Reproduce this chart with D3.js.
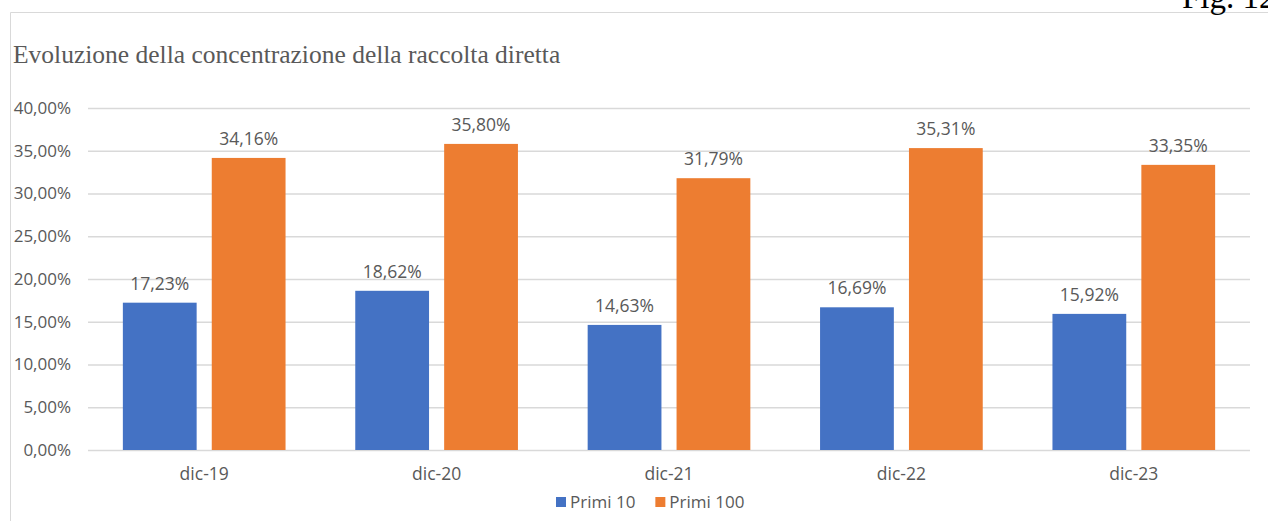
<!DOCTYPE html>
<html>
<head>
<meta charset="utf-8">
<script src="https://cdn.jsdelivr.net/npm/d3@7"></script>
<style>
  html, body { margin: 0; padding: 0; background: #fff; }
  svg { display: block; }
</style>
</head>
<body>
<div id="chart"></div>
<script>
// data
const categories = ["dic-19", "dic-20", "dic-21", "dic-22", "dic-23"];
const seriesNames = ["Primi 10", "Primi 100"];
const primi10 = [17.23, 18.62, 14.63, 16.69, 15.92];
const primi100 = [34.16, 35.80, 31.79, 35.31, 33.35];
const yTicks = [0, 5, 10, 15, 20, 25, 30, 35, 40];

const W = 1268, H = 521;
const colors = { "Primi 10": "#4472C4", "Primi 100": "#ED7D31" };
const textCol = "#595959";
const fmt = v => v.toFixed(2).replace(".", ",") + "%";

const svg = d3.select("#chart").append("svg")
    .attr("width", W)
    .attr("height", H);

// frame of the chart area (top and left edges visible)
svg.append("line")
    .attr("x1", 10.5).attr("x2", W)
    .attr("y1", 12.5).attr("y2", 12.5)
    .attr("stroke", "#d9d9d9");
svg.append("line")
    .attr("x1", 10.5).attr("x2", 10.5)
    .attr("y1", 12.5).attr("y2", H)
    .attr("stroke", "#d9d9d9");

// figure number, cut at the top like in the page it comes from
svg.append("text")
    .attr("x", 1182)
    .attr("y", 8)
    .style("font-family", "'Liberation Serif', serif")
    .style("font-size", "33px")
    .style("fill", "#000")
    .text("Fig. 12");

// title
svg.append("text")
    .attr("x", 13)
    .attr("y", 63)
    .style("font-family", "'Liberation Serif', serif")
    .style("font-size", "25.5px")
    .style("fill", textCol)
    .text("Evoluzione della concentrazione della raccolta diretta");

// scales
const plot = { left: 88, right: 1250, top: 108, bottom: 450 };

const x0 = d3.scaleBand()
    .domain(categories)
    .range([plot.left, plot.right])
    .paddingInner(0.3)
    .paddingOuter(0.15);

const x1 = d3.scaleBand()
    .domain(seriesNames)
    .range([0, x0.bandwidth()])
    .paddingInner(0.17);

const y = d3.scaleLinear()
    .domain([0, 40])
    .range([plot.bottom, plot.top]);

// gridlines + y labels
const yAxis = svg.append("g")
    .attr("transform", `translate(${plot.left},0)`)
    .call(d3.axisLeft(y)
        .tickValues(yTicks)
        .tickSize(-(plot.right - plot.left))
        .tickPadding(17)
        .tickFormat(d => fmt(d)));
yAxis.select(".domain").remove();
yAxis.selectAll(".tick line")
    .attr("stroke", "#d9d9d9")
    .attr("stroke-width", 1.3);
yAxis.selectAll(".tick text")
    .attr("fill", textCol)
    .style("font-family", "'Open Sans', sans-serif")
    .style("font-size", "17px");

// x axis labels
const xAxis = svg.append("g")
    .attr("transform", `translate(0,${plot.bottom})`)
    .call(d3.axisBottom(x0).tickSize(0).tickPadding(18));
xAxis.select(".domain").remove();
xAxis.selectAll(".tick text")
    .attr("fill", textCol)
    .style("font-family", "'Open Sans', sans-serif")
    .style("font-size", "17.5px");

// bars
const rows = categories.map((c, i) => ({
    cat: c,
    values: [
        { name: "Primi 10", value: primi10[i] },
        { name: "Primi 100", value: primi100[i] }
    ]
}));

const groups = svg.selectAll(".grp")
    .data(rows)
    .enter()
    .append("g")
    .attr("transform", d => `translate(${x0(d.cat)},0)`);

groups.selectAll("rect")
    .data(d => d.values)
    .enter()
    .append("rect")
    .attr("x", d => x1(d.name))
    .attr("y", d => y(d.value))
    .attr("width", x1.bandwidth())
    .attr("height", d => y(0) - y(d.value))
    .attr("fill", d => colors[d.name]);

groups.selectAll(".lbl")
    .data(d => d.values)
    .enter()
    .append("text")
    .attr("x", d => x1(d.name) + x1.bandwidth() / 2)
    .attr("y", d => y(d.value) - 13)
    .attr("text-anchor", "middle")
    .style("font-family", "'Open Sans', sans-serif")
    .style("font-size", "17.5px")
    .style("fill", textCol)
    .text(d => fmt(d.value));

// legend
const legend = svg.append("g")
    .attr("transform", "translate(556,502)");
let lx = 0;
seriesNames.forEach(name => {
    const item = legend.append("g").attr("transform", `translate(${lx},0)`);
    item.append("rect")
        .attr("x", 0)
        .attr("y", -5)
        .attr("width", 10)
        .attr("height", 10)
        .attr("fill", colors[name]);
    const t = item.append("text")
        .attr("x", 14)
        .attr("y", 6)
        .style("font-family", "'Open Sans', sans-serif")
        .style("font-size", "17px")
        .style("fill", textCol)
        .text(name);
    lx += 14 + t.node().getComputedTextLength() + 20;
});
</script>
</body>
</html>
